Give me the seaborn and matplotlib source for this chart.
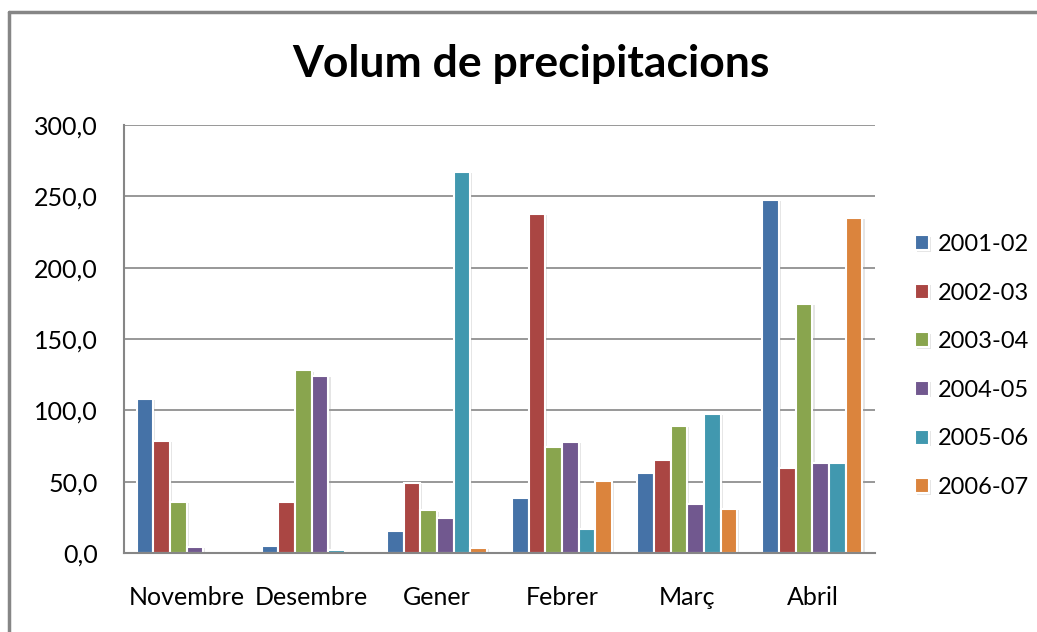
import numpy as np
import pandas as pd
import seaborn as sns
import matplotlib.pyplot as plt
from matplotlib.lines import Line2D
from matplotlib.ticker import FuncFormatter
import matplotlib.patheffects as pe

months = ["Novembre", "Desembre", "Gener", "Febrer", "Març", "Abril"]
seasons = ["2001-02", "2002-03", "2003-04", "2004-05", "2005-06", "2006-07"]

s2001_02 = [108.0, 5.0, 15.6, 38.8, 56.3, 247.4]
s2002_03 = [78.5, 36.0, 49.3, 237.6, 65.2, 59.6]
s2003_04 = [36.0, 128.0, 30.0, 74.5, 89.0, 174.5]
s2004_05 = [4.2, 124.0, 24.5, 77.8, 34.3, 63.0]
s2005_06 = [np.nan, 2.0, 267.0, 17.0, 97.4, 63.0]
s2006_07 = [np.nan, np.nan, 3.5, 50.5, 30.8, 234.8]

colors = ["#4572A7", "#AA4643", "#89A54E", "#71588F", "#4198AF", "#DB843D"]

series = [s2001_02, s2002_03, s2003_04, s2004_05, s2005_06, s2006_07]
rows = []
for season, vals in zip(seasons, series):
    for m, v in zip(months, vals):
        rows.append({"mes": m, "temporada": season, "valor": v})
df = pd.DataFrame(rows)

sns.set_theme(style="white")
plt.rcParams['font.family'] = ['Lato', 'DejaVu Sans']
plt.rcParams['text.color'] = 'black'

fig = plt.figure(figsize=(10.37, 6.32), dpi=100)
ax = fig.add_axes([124 / 1037, 79 / 632, 751 / 1037, 428 / 632])

sns.barplot(data=df, x="mes", y="valor", hue="temporada", order=months,
            hue_order=seasons, palette=colors, width=0.8, saturation=1,
            edgecolor="white", linewidth=1.5, ax=ax)

# soft shadow like the spreadsheet bars
for bar in ax.patches:
    bar.set_path_effects([pe.SimplePatchShadow(offset=(1.5, -1), shadow_rgbFace="#9a9a9a", alpha=0.25),
                          pe.Normal()])

ax.set_ylim(0, 300)
ax.set_yticks(np.arange(0, 301, 50))
ax.yaxis.set_major_formatter(FuncFormatter(lambda v, p: f"{v:.1f}".replace(".", ",")))
ax.grid(axis="y", color="#868686", linewidth=1.2)
ax.set_axisbelow(True)
for side in ["top", "right"]:
    ax.spines[side].set_visible(False)
for side in ["left", "bottom"]:
    ax.spines[side].set_color("#868686")
    ax.spines[side].set_linewidth(1.5)
ax.set_xlabel("")
ax.set_ylabel("")
ax.tick_params(axis="y", labelsize=18, pad=19, length=0, colors="black")
ax.tick_params(axis="x", labelsize=18, pad=24, length=0, colors="black")

handles, labels = ax.get_legend_handles_labels()
ax.legend(handles, labels, loc="center left", bbox_to_anchor=(915 / 1037, 1 - 366 / 632),
          bbox_transform=fig.transFigure, frameon=False, fontsize=17, borderpad=0,
          borderaxespad=0, handlelength=0.6, handleheight=0.6, handletextpad=0.35,
          labelspacing=1.17, labelcolor="black")

fig.text(531 / 1037, 1 - 64 / 632, "Volum de precipitacions", ha="center", va="center",
         fontsize=32, fontweight="bold", color="black")

fig.add_artist(Line2D([9 / 1037, 9 / 1037], [0, 1 - 12 / 632], transform=fig.transFigure,
                      color="#868686", linewidth=2.5))
fig.add_artist(Line2D([9 / 1037, 1], [1 - 12 / 632, 1 - 12 / 632], transform=fig.transFigure,
                      color="#868686", linewidth=2.5))

fig.savefig("out.png", dpi=100)
